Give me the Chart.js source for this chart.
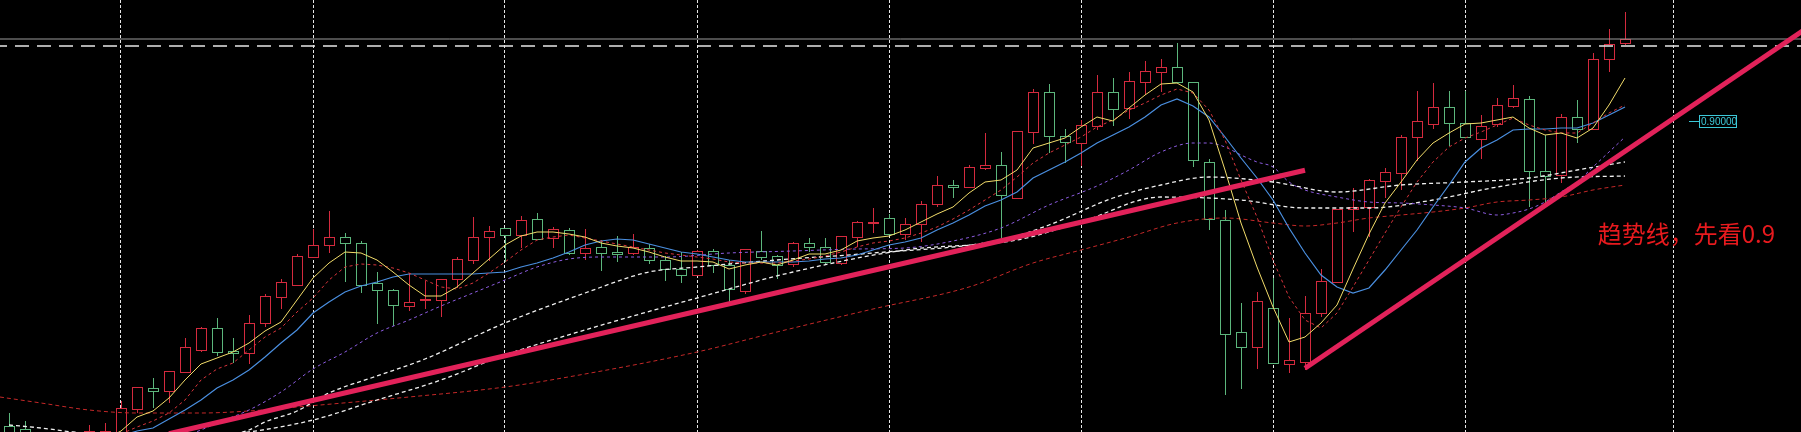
<!DOCTYPE html>
<html>
<head>
<meta charset="utf-8">
<script src="https://cdn.jsdelivr.net/npm/chart.js@4.4.1/dist/chart.umd.min.js"></script>
<style>
    html, body { margin: 0; padding: 0; background: #000; }
    #wrap { width: 1801px; height: 432px; position: relative; }
</style>
</head>
<body>
<div id="wrap"><canvas id="myChart"></canvas></div>
<script>
/* K-line with moving averages and two hand drawn trend lines.
   Bars are numbered by index, bar 0 sits on the first visible grid line. */

var firstBar = -7;
var opens = [0.7475, 0.746, 0.7355, 0.74, 0.7365, 0.7405, 0.738, 0.7415, 0.756, 0.7665,
    0.765, 0.7745, 0.7855, 0.7965, 0.785, 0.784, 0.799, 0.812, 0.818, 0.832,
    0.838, 0.842, 0.839, 0.819, 0.8155, 0.8075, 0.8105, 0.8105, 0.821, 0.8305,
    0.842, 0.8465, 0.843, 0.851, 0.8415, 0.8455, 0.834, 0.837, 0.8345, 0.834,
    0.8365, 0.8305, 0.826, 0.823, 0.835, 0.828, 0.815, 0.835, 0.8325, 0.8285,
    0.839, 0.837, 0.829, 0.842, 0.849, 0.8515, 0.8435, 0.8485, 0.8585, 0.868,
    0.867, 0.8765, 0.878, 0.8615, 0.8945, 0.9145, 0.8925, 0.889, 0.8975, 0.9145,
    0.9065, 0.9195, 0.9245, 0.927, 0.9195, 0.8795, 0.8505, 0.7945, 0.787, 0.8065,
    0.7785, 0.7795, 0.804, 0.8195, 0.856, 0.857, 0.87, 0.874, 0.892, 0.8985,
    0.907, 0.899, 0.891, 0.8985, 0.9075, 0.911, 0.875, 0.873, 0.902, 0.896,
    0.931, 0.939];
var highs = [0.754, 0.75, 0.7425, 0.742, 0.7415, 0.748, 0.749, 0.76, 0.767, 0.7715,
    0.775, 0.7915, 0.797, 0.8015, 0.7915, 0.803, 0.8135, 0.821, 0.8335, 0.846,
    0.855, 0.844, 0.84, 0.8245, 0.816, 0.824, 0.82, 0.821, 0.832, 0.852,
    0.8475, 0.8465, 0.8525, 0.854, 0.847, 0.8465, 0.846, 0.8405, 0.8425, 0.8435,
    0.8385, 0.8325, 0.8345, 0.8355, 0.836, 0.8305, 0.836, 0.845, 0.833, 0.8395,
    0.8415, 0.8415, 0.8425, 0.85, 0.8565, 0.8535, 0.8515, 0.86, 0.8725, 0.8705,
    0.878, 0.894, 0.8845, 0.895, 0.916, 0.9185, 0.896, 0.9005, 0.923, 0.9215,
    0.9245, 0.93, 0.931, 0.939, 0.9195, 0.881, 0.8555, 0.809, 0.8145, 0.8215,
    0.8015, 0.8125, 0.826, 0.856, 0.8665, 0.871, 0.8765, 0.893, 0.915, 0.919,
    0.915, 0.915, 0.903, 0.9115, 0.918, 0.9125, 0.893, 0.9035, 0.9105, 0.934,
    0.946, 0.9545];
var lows = [0.7375, 0.7365, 0.733, 0.7345, 0.7345, 0.7385, 0.7365, 0.738, 0.754, 0.7565,
    0.759, 0.774, 0.7845, 0.7825, 0.779, 0.7785, 0.797, 0.806, 0.8175, 0.8315,
    0.834, 0.8195, 0.814, 0.7985, 0.7975, 0.805, 0.806, 0.802, 0.8165, 0.8285,
    0.83, 0.8295, 0.8365, 0.8405, 0.8365, 0.833, 0.8305, 0.825, 0.8295, 0.833,
    0.8285, 0.82, 0.819, 0.8225, 0.824, 0.809, 0.8135, 0.8305, 0.821, 0.827,
    0.8345, 0.8285, 0.828, 0.837, 0.844, 0.843, 0.8405, 0.8395, 0.857, 0.8615,
    0.8665, 0.8755, 0.8415, 0.8615, 0.8885, 0.884, 0.879, 0.8775, 0.8955, 0.8975,
    0.901, 0.913, 0.9145, 0.919, 0.877, 0.8455, 0.763, 0.766, 0.776, 0.779,
    0.774, 0.7755, 0.802, 0.8195, 0.8445, 0.842, 0.8615, 0.8655, 0.88, 0.896,
    0.8875, 0.892, 0.881, 0.897, 0.9065, 0.857, 0.859, 0.869, 0.889, 0.896,
    0.9245, 0.938];
var closes = [0.7425, 0.7415, 0.7405, 0.737, 0.7395, 0.745, 0.745, 0.7565, 0.767, 0.765,
    0.775, 0.787, 0.7965, 0.7845, 0.784, 0.799, 0.8125, 0.8195, 0.8325, 0.838,
    0.842, 0.839, 0.818, 0.8155, 0.808, 0.8095, 0.811, 0.821, 0.831, 0.842,
    0.845, 0.843, 0.8505, 0.841, 0.846, 0.834, 0.8365, 0.834, 0.8335, 0.837,
    0.8305, 0.826, 0.823, 0.835, 0.828, 0.816, 0.836, 0.832, 0.828, 0.839,
    0.837, 0.8295, 0.8425, 0.8495, 0.8495, 0.8435, 0.8485, 0.8585, 0.868, 0.867,
    0.877, 0.878, 0.863, 0.895, 0.9145, 0.8925, 0.8895, 0.898, 0.9145, 0.906,
    0.92, 0.925, 0.927, 0.9195, 0.8805, 0.851, 0.7935, 0.787, 0.81, 0.779,
    0.7805, 0.804, 0.82, 0.856, 0.857, 0.8705, 0.8745, 0.892, 0.9, 0.907,
    0.899, 0.892, 0.8975, 0.908, 0.9115, 0.875, 0.8725, 0.902, 0.896, 0.931,
    0.9385, 0.941];

// MA5 / MA10 / MA20, one value per bar
var ma5Start = -1;
var ma5 = [0.741, 0.745, 0.752, 0.755, 0.7615, 0.7705, 0.7785, 0.7815, 0.7845, 0.789,
    0.795, 0.7995, 0.8105, 0.8215, 0.829, 0.8345, 0.834, 0.8305, 0.8245, 0.818,
    0.8125, 0.8125, 0.817, 0.824, 0.831, 0.838, 0.8425, 0.8445, 0.8445, 0.8435,
    0.842, 0.839, 0.8375, 0.8365, 0.8345, 0.832, 0.83, 0.83, 0.8295, 0.826,
    0.828, 0.8295, 0.828, 0.8305, 0.8335, 0.8335, 0.8355, 0.84, 0.8415, 0.8425,
    0.8455, 0.8495, 0.8535, 0.857, 0.864, 0.8695, 0.8705, 0.8755, 0.8865, 0.889,
    0.8915, 0.897, 0.902, 0.9, 0.9065, 0.913, 0.9185, 0.919, 0.9145, 0.9005,
    0.8755, 0.849, 0.827, 0.807, 0.7895, 0.792, 0.799, 0.808, 0.826, 0.8435,
    0.859, 0.8695, 0.8805, 0.889, 0.894, 0.8985, 0.899, 0.9005, 0.902, 0.8965,
    0.893, 0.894, 0.8915, 0.8965, 0.908, 0.9215];
var ma10Start = 0;
var ma10 = [0.7435, 0.747, 0.75, 0.754, 0.7605, 0.7705, 0.776, 0.779, 0.7855, 0.792,
    0.7965, 0.8045, 0.8115, 0.8205, 0.827, 0.8285, 0.828, 0.8265, 0.824, 0.8205,
    0.817, 0.816, 0.819, 0.824, 0.8295, 0.8355, 0.8405, 0.842, 0.843, 0.8415,
    0.84, 0.8385, 0.837, 0.8355, 0.834, 0.833, 0.832, 0.831, 0.8295, 0.829,
    0.829, 0.829, 0.83, 0.831, 0.8325, 0.8345, 0.837, 0.839, 0.84, 0.8415,
    0.844, 0.847, 0.851, 0.8555, 0.8605, 0.8655, 0.872, 0.879, 0.884, 0.888,
    0.892, 0.897, 0.9005, 0.9055, 0.909, 0.913, 0.916, 0.914, 0.9055, 0.8905,
    0.8705, 0.852, 0.8305, 0.812, 0.8005, 0.7965, 0.804, 0.817, 0.8305, 0.844,
    0.857, 0.8695, 0.8795, 0.887, 0.8915, 0.8945, 0.898, 0.9015, 0.898, 0.8955,
    0.894, 0.894, 0.899, 0.904, 0.908];
var ma20Start = 0;
var ma20 = [0.7425, 0.745, 0.7465, 0.751, 0.7555, 0.7605, 0.7665, 0.7705, 0.7755, 0.782,
    0.789, 0.7955, 0.804, 0.8095, 0.8145, 0.8175, 0.8195, 0.822, 0.8235, 0.8235,
    0.8235, 0.8235, 0.8235, 0.824, 0.8245, 0.827, 0.829, 0.8315, 0.8345, 0.838,
    0.84, 0.841, 0.8405, 0.8385, 0.8365, 0.8345, 0.8335, 0.832, 0.8305, 0.8295,
    0.8295, 0.8295, 0.8295, 0.83, 0.831, 0.8315, 0.833, 0.8355, 0.838, 0.8395,
    0.8415, 0.8455, 0.849, 0.853, 0.8575, 0.8605, 0.8645, 0.8715, 0.8755, 0.8795,
    0.884, 0.889, 0.893, 0.897, 0.902, 0.908, 0.911, 0.9075, 0.902, 0.892,
    0.8815, 0.8715, 0.8605, 0.8465, 0.834, 0.823, 0.817, 0.814, 0.8165, 0.8255,
    0.8355, 0.8455, 0.857, 0.868, 0.8795, 0.8865, 0.8905, 0.8955, 0.896, 0.896,
    0.8965, 0.8965, 0.899, 0.903, 0.907];

// slower averages, read at some bars only
var ma30Bars = [3, 5, 6, 8, 10, 12, 14, 16, 18, 20, 22, 24, 26, 28, 30, 34, 38, 42, 46, 49,
    52, 55, 58, 61, 63, 65, 67, 68, 69, 70, 71, 72, 73, 74, 76, 78, 80, 82, 84, 86,
    87, 88, 89, 90, 91, 92, 93, 94];
var ma30 = [0.7395, 0.7455, 0.749, 0.7555, 0.7645, 0.776, 0.7845, 0.794, 0.8005, 0.8075,
    0.814, 0.8205, 0.827, 0.831, 0.832, 0.832, 0.834, 0.835, 0.836, 0.8365,
    0.84, 0.8465, 0.858, 0.8675, 0.8755, 0.8845, 0.889, 0.889, 0.887, 0.883,
    0.8795, 0.877, 0.8695, 0.8655, 0.862, 0.8595, 0.859, 0.858, 0.8565, 0.853,
    0.854, 0.856, 0.8595, 0.8645, 0.8695, 0.877, 0.8845, 0.892];
var ma60Bars = [5, 8, 9, 11, 13, 16, 19, 24, 29, 33, 36, 41, 47, 55, 58, 62, 65, 68, 72, 76,
    80, 84, 88, 91, 94];
var ma60 = [0.7395, 0.7455, 0.7495, 0.755, 0.764, 0.7725, 0.781, 0.799, 0.814, 0.8245,
    0.827, 0.8305, 0.834, 0.8405, 0.848, 0.8615, 0.868, 0.872, 0.8695, 0.8645,
    0.868, 0.8695, 0.8715, 0.8755, 0.8795];
var ma120Bars = [-7, -5, -3, 1, 5, 8, 12, 16, 20, 24, 29, 36, 42, 49, 56, 60, 65, 70, 74, 78,
    82, 86, 90, 94];
var ma120 = [0.748, 0.7465, 0.7445, 0.742, 0.742, 0.7445, 0.7505, 0.7605, 0.7705, 0.783,
    0.7955, 0.8115, 0.8245, 0.8355, 0.8405, 0.8495, 0.862, 0.8605, 0.8565, 0.8565,
    0.8605, 0.867, 0.8715, 0.8725];
var ma250Bars = [-8, -5, -2, 1, 5, 8, 11, 18, 24, 29, 36, 41, 47, 53, 57, 60, 63, 66, 69, 72,
    74, 76, 78, 80, 82, 84, 86, 88, 90, 92, 94];
var ma250 = [0.7625, 0.759, 0.7555, 0.754, 0.754, 0.755, 0.757, 0.762, 0.767, 0.7735,
    0.7845, 0.7945, 0.806, 0.817, 0.829, 0.8355, 0.842, 0.849, 0.8515, 0.849,
    0.8475, 0.849, 0.8515, 0.853, 0.8545, 0.8565, 0.8595, 0.8605, 0.862, 0.8655,
    0.868];

// drawn objects
var trendA = [[3, 0.7436], [74, 0.8754]];
var trendB = [[74, 0.7764], [107, 0.9554]];
var lastPrice = 0.941;
var levelPrice = 0.9375;
var gridBars = [0, 12, 24, 36, 48, 60, 72, 84, 97];
var targetBar = 97;
var targetPrice = 0.9;
var note = '趋势线，先看0.9';

var upColor = '#d42a3e';
var downColor = '#5cb67c';

function series(start, vals) {
    return vals.map((v, k) => ({ x: start + k, y: v }));
}
function sampled(bars, vals) {
    return bars.map((b, k) => ({ x: b, y: vals[k] }));
}
function pairs(pts) {
    return pts.map(p => ({ x: p[0], y: p[1] }));
}

const candles = {
    id: 'candles',
    beforeDatasetsDraw(chart) {
        const ctx = chart.ctx;
        const x = chart.scales.x, y = chart.scales.y;
        ctx.save();
        ctx.lineWidth = 1;
        opens.forEach((o, k) => {
            const c = closes[k];
            const cx = Math.round(x.getPixelForValue(firstBar + k)) + 0.5;
            const top = Math.round(y.getPixelForValue(Math.max(o, c))) + 0.5;
            const bot = Math.round(y.getPixelForValue(Math.min(o, c))) + 0.5;
            const hi = Math.round(y.getPixelForValue(highs[k]));
            const lo = Math.round(y.getPixelForValue(lows[k]));
            ctx.strokeStyle = c >= o ? upColor : downColor;
            ctx.beginPath();
            ctx.moveTo(cx, hi);
            ctx.lineTo(cx, top);
            ctx.moveTo(cx, bot);
            ctx.lineTo(cx, lo);
            ctx.stroke();
            ctx.fillStyle = '#000';
            ctx.fillRect(cx - 5, top, 10, bot - top);
            ctx.strokeRect(cx - 5, top, 10, Math.max(bot - top, 1));
        });
        ctx.restore();
    }
};

const labels = {
    id: 'labels',
    afterDatasetsDraw(chart) {
        const ctx = chart.ctx;
        const x = chart.scales.x, y = chart.scales.y;
        const px = x.getPixelForValue(targetBar);
        const py = Math.round(y.getPixelForValue(targetPrice)) + 0.5;
        ctx.save();
        ctx.strokeStyle = '#3cc8d8';
        ctx.lineWidth = 1;
        ctx.beginPath();
        ctx.moveTo(px + 16, py);
        ctx.lineTo(px + 27, py);
        ctx.stroke();
        ctx.fillStyle = '#000';
        ctx.fillRect(px + 27, py - 6, 37, 12);
        ctx.strokeRect(Math.round(px) + 26.5, py - 6, 37, 12);
        ctx.fillStyle = '#3cc8d8';
        ctx.font = '10px "Liberation Sans"';
        ctx.textBaseline = 'middle';
        ctx.fillText('0.90000', px + 28, py + 0.5);

        ctx.fillStyle = '#e81a1e';
        ctx.font = '24px "Noto Sans CJK SC"';
        ctx.textBaseline = 'alphabetic';
        ctx.fillText(note, x.getPixelForValue(92.3), y.getPixelForValue(0.839));
        ctx.restore();
    }
};

function maLine(label, data, color, dash, width, smooth) {
    return {
        type: 'line',
        label: label,
        data: data,
        borderColor: color,
        borderWidth: width,
        borderDash: dash,
        pointRadius: 0,
        tension: 0,
        cubicInterpolationMode: smooth ? 'monotone' : 'default',
        order: 5
    };
}

const data = {
    datasets: [
        {
            type: 'line', label: 'trend A', data: pairs(trendA),
            borderColor: '#e2225a', borderWidth: 5, pointRadius: 0, order: 0
        },
        {
            type: 'line', label: 'trend B', data: pairs(trendB),
            borderColor: '#e2225a', borderWidth: 5, pointRadius: 0, order: 0
        },
        maLine('MA5', series(ma5Start, ma5), '#f2dc6a', [], 1, false),
        maLine('MA10', series(ma10Start, ma10), '#d8343c', [3, 3], 1, false),
        maLine('MA20', series(ma20Start, ma20), '#4a8fe0', [], 1.2, false),
        maLine('MA30', sampled(ma30Bars, ma30), '#8c5ce0', [3, 3], 1, true),
        maLine('MA60', sampled(ma60Bars, ma60), '#f0f0f0', [4, 3], 1.3, true),
        maLine('MA120', sampled(ma120Bars, ma120), '#f0f0f0', [4, 3], 1.3, true),
        maLine('MA250', sampled(ma250Bars, ma250), '#c42828', [4, 3], 1, true),
        {
            type: 'line', label: 'last', data: [{ x: -8, y: lastPrice }, { x: 106, y: lastPrice }],
            borderColor: '#9a9a9a', borderWidth: 1, pointRadius: 0, order: 6
        },
        {
            type: 'line', label: 'level', data: [{ x: -8, y: levelPrice }, { x: 106, y: levelPrice }],
            borderColor: '#e8e8e8', borderWidth: 1.5, borderDash: [14, 8], pointRadius: 0, order: 6
        }
    ]
};

const config = {
    type: 'line',
    data: data,
    plugins: [candles, labels],
    options: {
        responsive: true,
        maintainAspectRatio: false,
        animation: false,
        layout: { padding: 0 },
        plugins: {
            legend: { display: false },
            tooltip: { enabled: false }
        },
        scales: {
            x: {
                type: 'linear',
                min: -7.5625,
                max: 105,
                afterBuildTicks: axis => {
                    axis.ticks = gridBars.map(v => ({ value: v }));
                },
                grid: { color: '#e6e6e6', lineWidth: 1, drawTicks: false },
                border: { display: false, dash: [3, 2] },
                ticks: { display: false }
            },
            y: {
                display: false,
                min: 0.7445,
                max: 0.9605
            }
        }
    }
};

var myChart = new Chart(document.getElementById('myChart'), config);
</script>
</body>
</html>
